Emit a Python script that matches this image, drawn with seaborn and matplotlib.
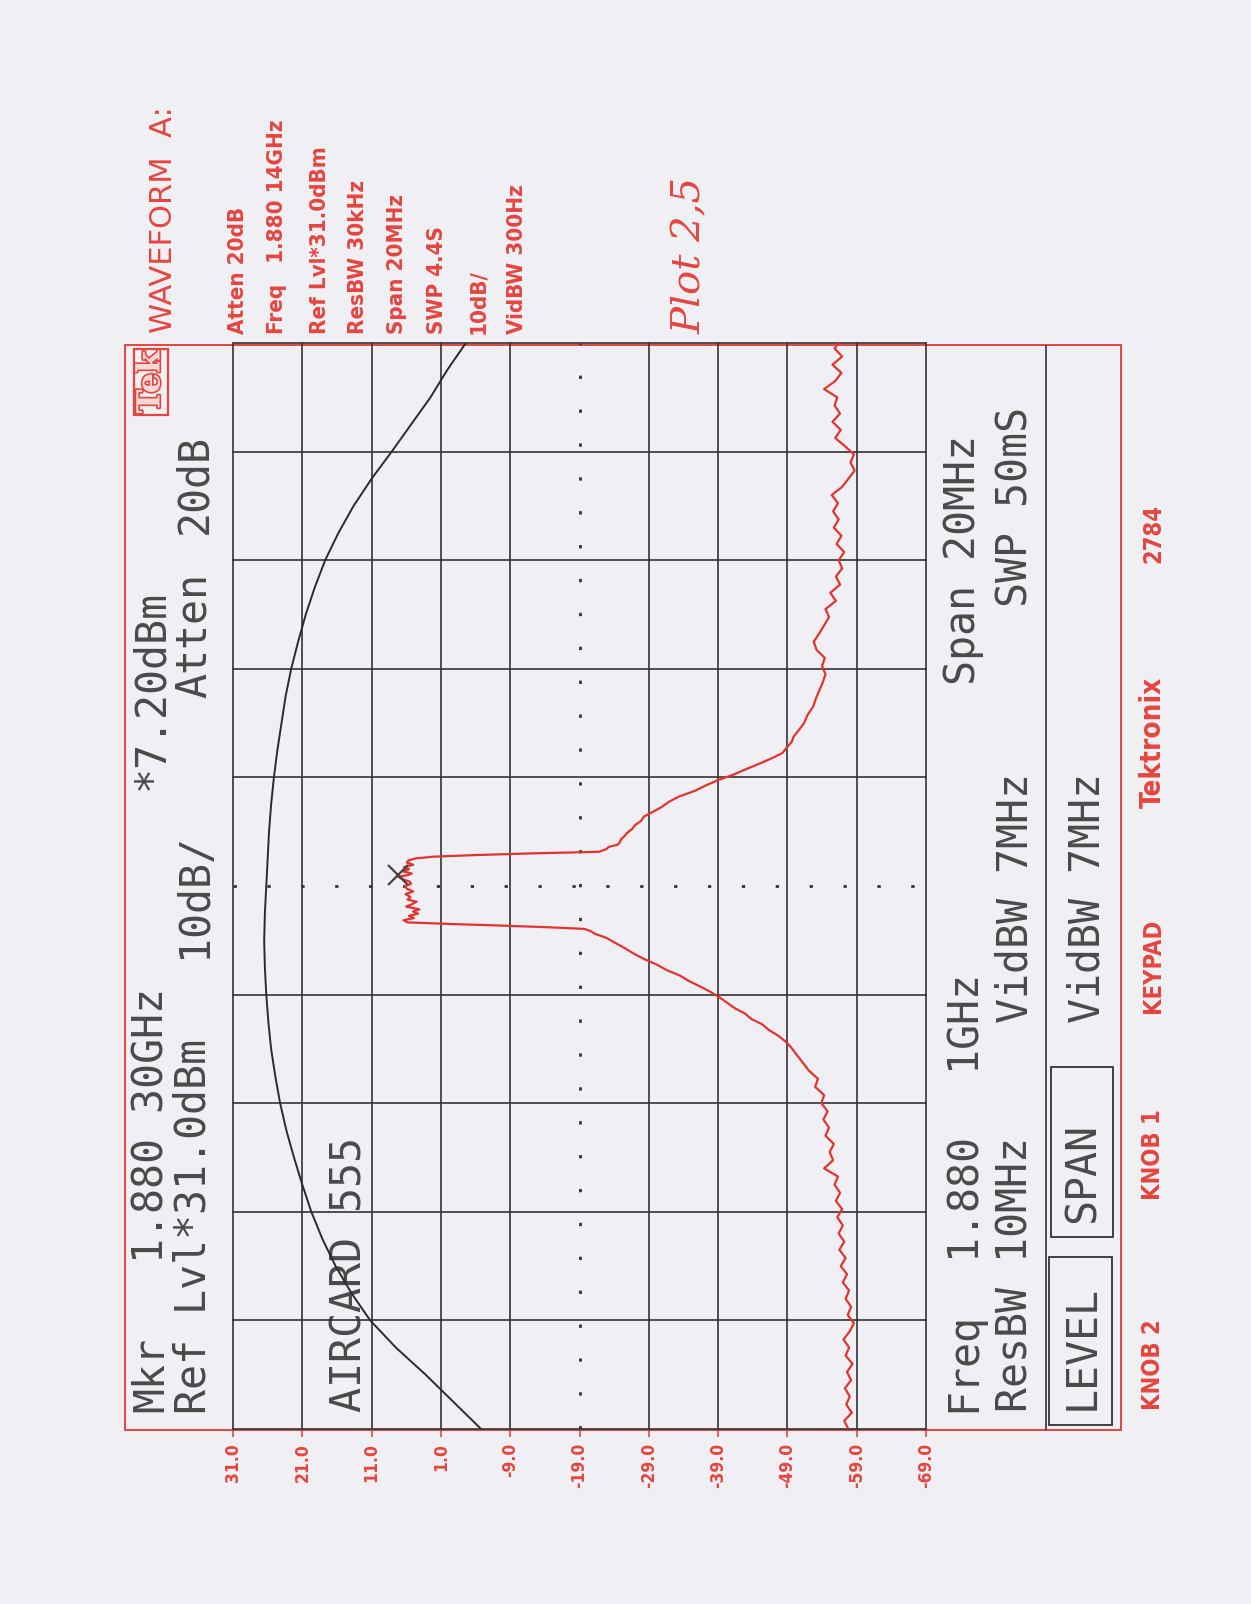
import numpy as np
import pandas as pd
import seaborn as sns
import matplotlib.pyplot as plt
from matplotlib.patches import Rectangle
import matplotlib.patheffects as pe

# amplitude graticule, 10 dB/div from Ref Lvl 31.0 dBm
level_ticks = [31.0, 21.0, 11.0, 1.0, -9.0, -19.0, -29.0, -39.0, -49.0, -59.0, -69.0]
level_labels = ['31.0', '21.0', '11.0', '1.0', '-9.0', '-19.0', '-29.0', '-39.0', '-49.0', '-59.0', '-69.0']
# frequency offset from 1.880 1 GHz centre, MHz (span 20 MHz, 2 MHz/div)
freq_ticks = [-10, -8, -6, -4, -2, 0, 2, 4, 6, 8, 10]

# stored reference trace (black)
black_freq = [-10, -9.5, -9, -8.5, -8, -7.5, -7, -6.5, -6, -5.5, -5, -4.5, -4, -3.5, -3, -2.5,
              -2, -1.5, -1, -0.5, 0, 0.5, 1, 1.5, 2, 2.5, 3, 3.5, 4, 4.5, 5, 5.5, 6, 6.5, 7,
              7.5, 8, 8.5, 9, 9.5, 10]
black_level = [-4.8, -0.8, 3.2, 7.5, 11.2, 13.9, 16.2, 18.1, 19.7, 21.0, 22.2, 23.3, 24.2, 24.9,
               25.5, 25.9, 26.2, 26.4, 26.5, 26.4, 26.2, 26.0, 25.8, 25.5, 25.1, 24.6, 24.0, 23.4,
               22.6, 21.6, 20.5, 19.2, 17.7, 15.8, 13.6, 11.0, 8.1, 5.3, 2.5, 0.1, -2.6]

# live trace (red): AIRCARD 555 carrier
trace_freq = [-10.0, -9.85, -9.7, -9.55, -9.4, -9.25, -9.1, -8.95, -8.8, -8.65, -8.5, -8.35, -8.2,
              -8.05, -7.9, -7.75, -7.6, -7.45, -7.3, -7.15, -7.0, -6.85, -6.7, -6.55, -6.4, -6.25,
              -6.1, -5.95, -5.8, -5.65, -5.5, -5.35, -5.2, -5.05, -4.9, -4.75, -4.6, -4.45, -4.3,
              -4.15, -4.0, -3.85, -3.7, -3.55, -3.4, -3.25, -3.1, -2.95, -2.85, -2.75, -2.65, -2.55,
              -2.45, -2.35, -2.25, -2.15, -2.05, -1.95, -1.85, -1.75, -1.65, -1.55, -1.45, -1.35,
              -1.25, -1.15, -1.05, -0.95, -0.88, -0.83, -0.79, -0.76, -0.73, -0.70, -0.67,
              -0.63, -0.59, -0.55, -0.51, -0.47, -0.43, -0.38, -0.33, -0.29, -0.25, -0.20, -0.15,
              -0.10, -0.05, 0.00, 0.04, 0.08, 0.12, 0.17, 0.20, 0.23, 0.27, 0.31, 0.35, 0.39, 0.43,
              0.47, 0.51, 0.54, 0.57, 0.60, 0.63, 0.68, 0.72, 0.76, 0.80, 0.86, 0.92, 0.98, 1.05,
              1.12, 1.20, 1.28, 1.36, 1.45, 1.55, 1.65, 1.75, 1.85, 1.95, 2.05, 2.15, 2.25, 2.35,
              2.45, 2.55, 2.65, 2.75, 2.88, 3.0, 3.15, 3.3, 3.45, 3.6, 3.75, 3.9, 4.05, 4.2, 4.35,
              4.5, 4.65, 4.8, 4.95, 5.1, 5.25, 5.4, 5.55, 5.7, 5.85, 6.0, 6.15, 6.3, 6.45, 6.6,
              6.75, 6.9, 7.05, 7.2, 7.35, 7.5, 7.65, 7.8, 7.95, 8.1, 8.25, 8.4, 8.55, 8.7, 8.85,
              9.0, 9.15, 9.3, 9.45, 9.6, 9.75, 9.9, 10.0]
trace_level = [-57.8, -57.2, -58.3, -57.5, -58.0, -57.3, -58.2, -57.6, -58.4, -57.4, -57.9, -57.1,
               -58.0, -58.6, -57.7, -58.2, -57.4, -57.9, -57.0, -57.6, -56.7, -57.4, -56.5, -57.2,
               -56.4, -57.0, -56.2, -56.9, -56.0, -56.6, -55.8, -56.3, -54.3, -55.6, -55.1, -55.7,
               -54.5, -55.0, -54.2, -54.8, -53.9, -54.3, -53.0, -53.4, -52.1, -51.2, -50.3, -49.4,
               -48.6, -47.6, -46.3, -45.4, -43.8, -42.9, -41.4, -40.3, -39.2, -37.9, -36.4, -34.8,
               -33.5, -31.6, -30.2, -28.4, -26.9, -25.6, -24.2, -22.8, -21.2, -20.6, -19.7, -14.5,
               -8.0, -0.5, 5.8,
               6.4, 4.9, 5.6, 4.3, 5.0, 4.1, 6.0, 5.1, 4.5, 5.8, 5.4, 6.1, 5.0, 5.9, 6.2, 5.3, 5.5,
               6.4, 7.2, 5.8, 5.2, 6.5, 5.6, 6.3, 5.0, 5.9, 5.7, 4.6, 2.0, -4.0, -12.0, -21.8,
               -22.9, -23.2, -24.5, -24.8, -25.0, -25.5, -25.9, -26.6, -27.0, -27.9, -28.3, -29.5,
               -30.8, -31.9, -33.4, -35.6, -37.2, -39.0, -41.2, -43.0, -44.9, -46.7, -48.3, -48.9,
               -49.6, -49.9, -50.7, -51.4, -51.9, -52.7, -53.1, -53.6, -54.1, -54.5, -54.0, -54.4,
               -53.2, -52.8, -53.6, -54.3, -55.0, -54.5, -56.0, -55.2, -56.6, -56.0, -56.9, -56.4,
               -57.2, -56.1, -56.8, -55.7, -56.4, -55.6, -56.3, -55.4, -56.9, -57.8, -58.7, -58.1,
               -58.6, -57.3, -55.9, -56.7, -55.5, -56.6, -55.8, -56.2, -54.3, -55.9, -56.8, -55.5,
               -56.9, -55.8, -56.4]

marker_freq = 0.2      # Mkr 1.880 30GHz
marker_level = 7.2     # *7.20dBm

RED = '#e2332f'
PRINT_RED = '#e6453f'
INK = '#333333'
PAPER = '#f0f0f4'
SCREEN = 'DejaVu Sans Mono'
NARROW = ['DejaVu Sans']

sns.set_style('white')
plt.rcParams['font.family'] = ['DejaVu Sans']

fig = plt.figure(figsize=(12.51, 16.04), dpi=100, facecolor=PAPER)

# page layer in pixel units (y down)
bg = fig.add_axes([0, 0, 1, 1])
bg.set_xlim(0, 1251)
bg.set_ylim(1604, 0)
bg.axis('off')

# graticule
ax = fig.add_axes([233 / 1251, 1 - 1429 / 1604, (926 - 233) / 1251, (1429 - 343) / 1604])
ax.patch.set_alpha(0)
ax.set_xlim(level_ticks[0], level_ticks[-1])
ax.set_ylim(freq_ticks[0], freq_ticks[-1])
for s in ax.spines.values():
    s.set_visible(False)

for v in level_ticks:
    if v == -19.0:
        ax.axvline(v, color=INK, lw=2.0, ls=(0, (1.2, 11)))
    else:
        ax.axvline(v, color=INK, lw=1.2, clip_on=False)
for f in freq_ticks:
    if f == 0:
        ax.axhline(f, color=INK, lw=2.0, ls=(0, (1.2, 11)))
    else:
        ax.axhline(f, color=INK, lw=1.2, clip_on=False)

ax.set_yticks([])
ax.set_xticks(level_ticks)
ax.set_xticklabels(level_labels, rotation=90, family=NARROW, fontstretch='condensed',
                   fontweight='bold', fontsize=12.5)
ax.tick_params(axis='x', colors=PRINT_RED, length=6, width=1.2, pad=4, bottom=True)

ref = pd.DataFrame({'freq': black_freq, 'level': black_level})
live = pd.DataFrame({'freq': trace_freq, 'level': trace_level})
sns.lineplot(data=ref, x='level', y='freq', sort=False, estimator=None, color='#2b2b2b',
             linewidth=1.4, ax=ax)
sns.lineplot(data=live, x='level', y='freq', sort=False, estimator=None, color=RED,
             linewidth=1.6, ax=ax)
ax.plot([marker_level], [marker_freq], marker='x', ms=15, mew=1.6, color='#444444', ls='none')
ax.set_xlabel('')
ax.set_ylabel('')

# instrument frame
bg.add_patch(Rectangle((125, 345), 996, 1085, fill=False, ec=PRINT_RED, lw=1.4))
bg.vlines(1046, 345, 1430, color=INK, lw=1.2)
bg.add_patch(Rectangle((1049, 1257), 63, 168, fill=False, ec=INK, lw=1.3))
bg.add_patch(Rectangle((1051, 1067), 62, 170, fill=False, ec=INK, lw=1.3))

def screen(x, y, s, size=30):
    bg.text(x, y, s, rotation=90, ha='center', va='bottom', family=SCREEN,
            fontsize=size, color='#4a4a4a')

screen(151, 1412, 'Mkr')
screen(151, 1263, '1.880 30GHz')
screen(151, 790, '*7.20dBm')
screen(194, 1414, 'Ref Lvl*31.0dBm')
screen(194, 958, '10dB/')
screen(194, 698, 'Atten')
screen(194, 534, '20dB')
screen(350, 1412, 'AIRCARD 555')
screen(963, 1412, 'Freq')
screen(963, 1257, '1.880')
screen(963, 1069, '1GHz')
screen(963, 685, 'Span 20MHz')
screen(1015, 1412, 'ResBW 10MHz')
screen(1015, 1023, 'VidBW 7MHz')
screen(1015, 607, 'SWP 50mS')
screen(1082, 1410, 'LEVEL')
screen(1083, 1223, 'SPAN')
screen(1087, 1023, 'VidBW 7MHz')

# Tek logo
bg.text(151, 382, 'Tek', rotation=90, ha='center', va='center', family='DejaVu Serif',
        fontweight='bold', fontsize=23, color='#f6d9d6',
        path_effects=[pe.withStroke(linewidth=2.4, foreground=PRINT_RED)],
        bbox=dict(boxstyle='square,pad=0.05', fc='none', ec=PRINT_RED, lw=1.6))

# printer header
bg.text(163, 333, 'WAVEFORM  A:', rotation=90, ha='center', va='bottom', fontsize=22,
        color=PRINT_RED)
header = ['Atten 20dB', 'Freq   1.880 14GHz', 'Ref Lvl*31.0dBm', 'ResBW 30kHz',
          'Span 20MHz', 'SWP 4.4S', '10dB/', 'VidBW 300Hz']
for xx, s in zip([238, 277, 320, 358, 397, 437, 478, 517], header):
    bg.text(xx, 334, s, rotation=90, ha='center', va='bottom', family=NARROW,
            fontstretch='condensed', fontweight='bold', fontsize=16, color=PRINT_RED)

bg.text(690, 334, 'Plot 2,5', rotation=90, ha='center', va='bottom', family='DejaVu Serif',
        style='italic', fontsize=29, color=PRINT_RED)

# printer footer
for yy, s in zip([1410, 1200, 1013, 808, 563], ['KNOB 2', 'KNOB 1', 'KEYPAD', 'Tektronix', '2784']):
    bg.text(1153, yy, s, rotation=90, ha='center', va='bottom', family=NARROW,
            fontstretch='condensed', fontsize=17 if s != 'Tektronix' else 20,
            fontweight='bold', color=PRINT_RED)

fig.savefig('out.png', dpi=100, facecolor=PAPER)
